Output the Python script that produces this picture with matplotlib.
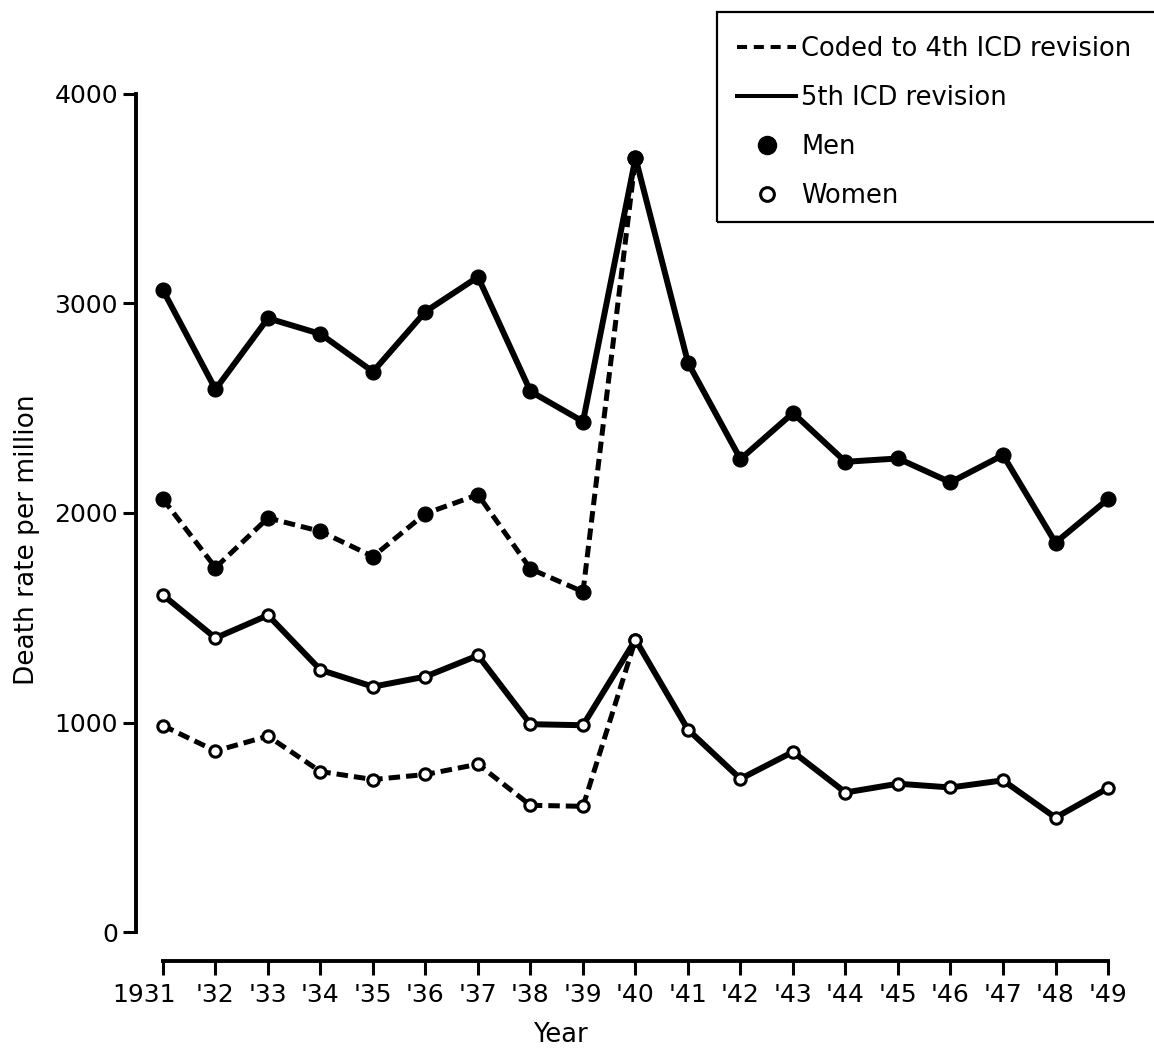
import matplotlib
matplotlib.use('Agg')
import matplotlib.pyplot as plt
from matplotlib.lines import Line2D
from matplotlib.patches import Rectangle
import matplotlib.transforms as mtransforms

# ---------------- data ----------------
years = [1931, 1932, 1933, 1934, 1935, 1936, 1937, 1938, 1939, 1940,
         1941, 1942, 1943, 1944, 1945, 1946, 1947, 1948, 1949]
year_labels = ['1931', "'32", "'33", "'34", "'35", "'36", "'37", "'38", "'39", "'40",
               "'41", "'42", "'43", "'44", "'45", "'46", "'47", "'48", "'49"]

# 5th ICD revision (solid)
men_5th = [3063, 2590, 2929, 2854, 2674, 2961, 3126, 2580, 2436, 3694,
           2717, 2257, 2477, 2244, 2260, 2146, 2276, 1858, 2066]
women_5th = [1608, 1403, 1512, 1251, 1171, 1219, 1320, 992, 987, 1395,
             966, 731, 860, 666, 708, 690, 724, 546, 687]

# Coded to 4th ICD revision (dashed), 1931-1940
years_4th = [1931, 1932, 1933, 1934, 1935, 1936, 1937, 1938, 1939, 1940]
men_4th = [2066, 1739, 1976, 1912, 1792, 1997, 2087, 1733, 1624, 3694]
women_4th = [985, 864, 935, 766, 728, 752, 801, 605, 600, 1395]

y_ticks = [0, 1000, 2000, 3000, 4000]
y_tick_labels = ['0', '1000', '2000', '3000', '4000']
legend_labels = ['Coded to 4th ICD revision', '5th ICD revision', 'Men', 'Women']

# ---------------- figure ----------------
W, H = 1154, 1049
plt.rcParams['font.family'] = ['DejaVu Sans']
fig = plt.figure(figsize=(W / 100, H / 100), dpi=100)


def px_rect(x0, y0, x1, y1):
    return [x0 / W, 1 - y1 / H, (x1 - x0) / W, (y1 - y0) / H]


ax = fig.add_axes(px_rect(136, 85, 1130, 961))
ax.set_xlim(1930.486, 1949.419)
ax.set_ylim(-138, 4042)

lw_solid = 4.3
lw_dash = 3.6
dash = (2.3, 1.2)

# lines
ax.plot(years_4th, men_4th, color='k', lw=lw_dash, ls='--', dashes=dash,
        dash_capstyle='butt', zorder=2)
ax.plot(years_4th, women_4th, color='k', lw=lw_dash, ls='--', dashes=dash,
        dash_capstyle='butt', zorder=2)
ax.plot(years, men_5th, color='k', lw=lw_solid, solid_joinstyle='round', zorder=3)
ax.plot(years, women_5th, color='k', lw=lw_solid, solid_joinstyle='round', zorder=3)

# markers
ax.plot(years_4th, men_4th, ls='none', marker='o', ms=10.8, mfc='k', mec='k',
        mew=0.8, zorder=4)
ax.plot(years, men_5th, ls='none', marker='o', ms=10.8, mfc='k', mec='k',
        mew=0.8, zorder=4)
ax.plot(years_4th, women_4th, ls='none', marker='o', ms=8.2, mfc='white', mec='k',
        mew=2.2, zorder=4)
ax.plot(years, women_5th, ls='none', marker='o', ms=8.2, mfc='white', mec='k',
        mew=2.2, zorder=4)

# axes styling
for s in ['top', 'right']:
    ax.spines[s].set_visible(False)
ax.spines['left'].set_bounds(0, 4000)
ax.spines['bottom'].set_bounds(1931, 1949)
ax.spines['left'].set_linewidth(2.8)
ax.spines['bottom'].set_linewidth(2.8)

ax.set_yticks(y_ticks)
ax.set_yticklabels(y_tick_labels)
ax.set_xticks(years)
ax.set_xticklabels(year_labels)
ax.tick_params(axis='y', length=9.4, width=2.2, pad=3.6, labelsize=18)
ax.tick_params(axis='x', length=10, width=2.2, pad=5.8, labelsize=18)

first = ax.get_xticklabels()[0]
first.set_transform(first.get_transform() +
                    mtransforms.ScaledTranslation(-18.5 / 100, 0, fig.dpi_scale_trans))

ax.set_xlabel('Year', fontsize=18.5)
ax.xaxis.set_label_coords((560 - 136) / 994, -(1035 - 961) / 876)
ax.xaxis.label.set_verticalalignment('center')

ax.set_ylabel('Death rate per million', fontsize=19)
ax.yaxis.set_label_coords(-(136 - 27) / 994, (961 - 540) / 876)
ax.yaxis.label.set_verticalalignment('center')

# legend box (extends past the right edge as in the original)
fig.add_artist(Rectangle((717 / W, 1 - 222 / H), (1180 - 717) / W, 210 / H,
                         transform=fig.transFigure, fill=False, ec='k', lw=1.6,
                         clip_on=False))

handles = [
    Line2D([], [], color='k', lw=2.9, ls='--', dashes=(2.5, 1.67), dash_capstyle='butt'),
    Line2D([], [], color='k', lw=2.9),
    Line2D([], [], ls='none', marker='o', ms=13, mfc='k', mec='k'),
    Line2D([], [], ls='none', marker='o', ms=9.9, mfc='white', mec='k', mew=2.2),
]
fig.legend(handles, legend_labels, loc='upper left',
           bbox_to_anchor=(737 / W, 1 - 36 / H), frameon=False,
           borderpad=0, borderaxespad=0, handlelength=2.3, handletextpad=0.2,
           labelspacing=0.9, fontsize=18.5)

fig.savefig('out.png', dpi=100)
